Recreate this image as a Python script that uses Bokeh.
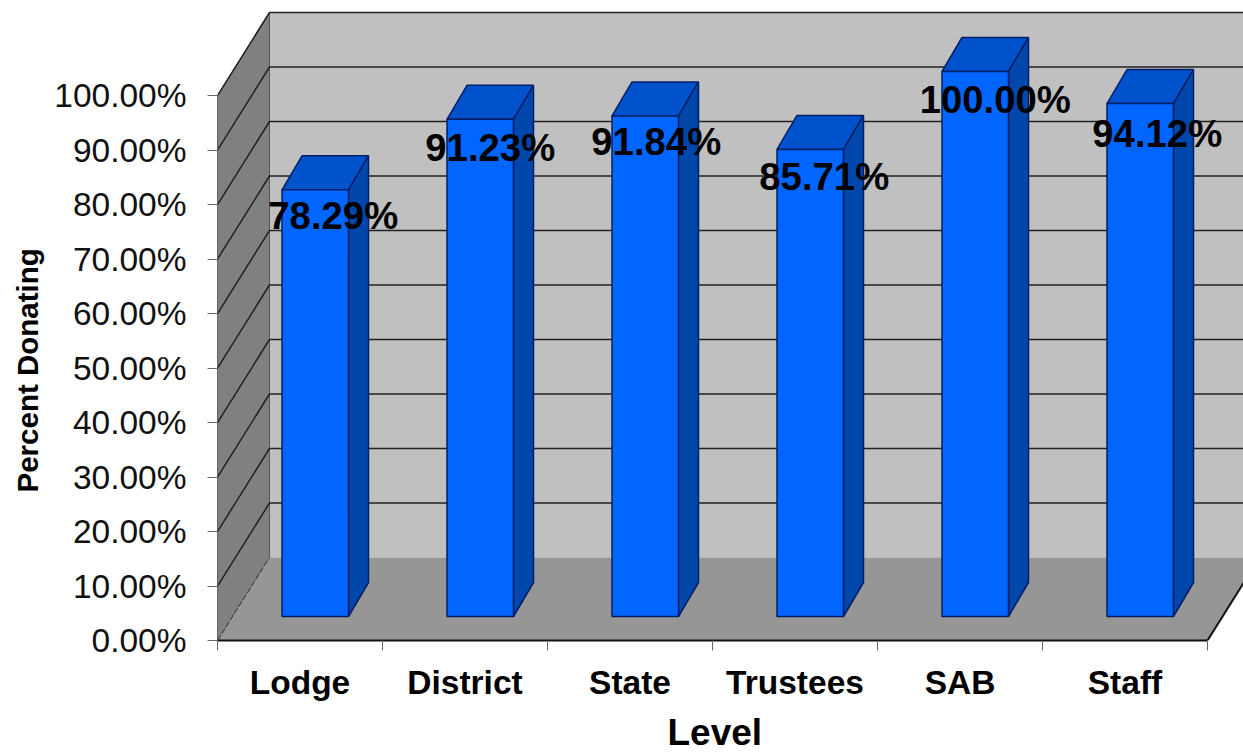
from bokeh.plotting import figure
from bokeh.models import ColumnDataSource, LinearAxis, FixedTicker, Range1d, Title
from bokeh.core.properties import value
from bokeh.embed import file_html
from bokeh.resources import INLINE

categories = ["Lodge", "District", "State", "Trustees", "SAB", "Staff"]
percent_donating = [78.29, 91.23, 91.84, 85.71, 100.00, 94.12]
percent_labels = ["78.29%", "91.23%", "91.84%", "85.71%", "100.00%", "94.12%"]
y_ticks = [0, 10, 20, 30, 40, 50, 60, 70, 80, 90, 100]
y_tick_labels = ["0.00%", "10.00%", "20.00%", "30.00%", "40.00%", "50.00%",
                 "60.00%", "70.00%", "80.00%", "90.00%", "100.00%"]
label_nudges_x = [18, 10, 11, 14, 20, 17]
label_nudges_y = [26, 28.5, 26, 27, 28, 30]

FONT = "Liberation Sans"
PX_X, PX_Y = 165.0, 5.45        # pixels per category / per percent
FRAME_L, FRAME_R, FRAME_T, FRAME_B = 217, 1243, 0, 640
WALL_DX, WALL_DY = 52 / PX_X, 83 / PX_Y
BAR_W = 66.5 / PX_X
BAR_SHIFT = (281.5 - 217) / PX_X
BAR_BASE = 24 / PX_Y
BAR_DX, BAR_DY = 20 / PX_X, 34 / PX_Y
n = len(categories)

p = figure(width=1243, height=752, output_backend="svg", toolbar_location=None,
           x_axis_type=None, y_axis_type=None,
           x_range=Range1d(0, (FRAME_R - FRAME_L) / PX_X),
           y_range=Range1d(0, (FRAME_B - FRAME_T) / PX_Y),
           frame_width=FRAME_R - FRAME_L, frame_height=FRAME_B - FRAME_T,
           min_border_left=FRAME_L, min_border_right=0,
           min_border_top=0, min_border_bottom=752 - FRAME_B,
           outline_line_color=None, background_fill_color=None)
p.grid.visible = False

top = 100
# back wall, left wall, floor
p.patch([WALL_DX, n + WALL_DX, n + WALL_DX, WALL_DX],
        [WALL_DY, WALL_DY, top + WALL_DY, top + WALL_DY],
        fill_color="#C0C0C0", line_color=None)
p.patch([0, WALL_DX, WALL_DX, 0], [0, WALL_DY, top + WALL_DY, top],
        fill_color="#808080", line_color="#555555", line_width=1)
p.patch([0, n, n + WALL_DX, WALL_DX], [0, 0, WALL_DY, WALL_DY],
        fill_color="#969696", line_color=None)

# grid lines on back and left walls
p.multi_line([[0, WALL_DX, n + WALL_DX] for v in y_ticks[1:]],
             [[v, v + WALL_DY, v + WALL_DY] for v in y_ticks[1:]],
             line_color="#222222", line_width=1.5)
p.line([0, WALL_DX], [0, WALL_DY], line_color="#333333", line_width=1, line_dash="6 2")
p.line([n, n + WALL_DX], [0, WALL_DY], line_color="#111111", line_width=2)

# bars
lefts = [i + BAR_SHIFT for i in range(n)]
rights = [l + BAR_W for l in lefts]
OUT = "#001F66"
p.patches([[l, r, r + BAR_DX, l + BAR_DX] for l, r in zip(lefts, rights)],
          [[BAR_BASE + v, BAR_BASE + v, BAR_BASE + v + BAR_DY, BAR_BASE + v + BAR_DY] for v in percent_donating],
          fill_color="#0052CC", line_color=OUT, line_width=1.5)
p.patches([[r, r + BAR_DX, r + BAR_DX, r] for r in rights],
          [[BAR_BASE, BAR_BASE + BAR_DY, BAR_BASE + v + BAR_DY, BAR_BASE + v] for v in percent_donating],
          fill_color="#0047AB", line_color=OUT, line_width=1.5)
p.quad(left=lefts, right=rights, bottom=BAR_BASE,
       top=[BAR_BASE + v for v in percent_donating],
       fill_color="#0066FF", line_color=OUT, line_width=1.5)

# value labels
src = ColumnDataSource(dict(
    x=[l + BAR_W / 2 for l in lefts],
    y=[BAR_BASE + v for v in percent_donating],
    t=percent_labels, dx=label_nudges_x, dy=label_nudges_y))
p.text("x", "y", text="t", source=src, x_offset="dx", y_offset="dy",
       text_font=value(FONT), text_font_style="bold", text_font_size="38.3px",
       text_color="#000000", text_align="center", text_baseline="middle")

# axes
yax = LinearAxis(ticker=FixedTicker(ticks=y_ticks), bounds=(0, 100),
                 major_label_overrides=dict(zip(y_ticks, y_tick_labels)))
yax.major_label_text_font = FONT
yax.major_label_text_font_size = "33.5px"
yax.major_label_text_color = "#111111"
yax.major_label_standoff = 21
yax.major_tick_out = 10
yax.major_tick_in = 0
yax.major_tick_line_color = "#666666"
yax.minor_tick_line_color = None
yax.axis_line_color = "#666666"
p.add_layout(yax, "left")

centers = [i + 0.5 for i in range(n)]
xax = LinearAxis(ticker=FixedTicker(ticks=centers, minor_ticks=list(range(n + 1))),
                 bounds=(0, n),
                 major_label_overrides=dict(zip(centers, categories)))
xax.major_label_text_font = FONT
xax.major_label_text_font_style = "bold"
xax.major_label_text_font_size = "33.5px"
xax.major_label_text_color = "#000000"
xax.major_label_standoff = 13
xax.major_tick_line_color = None
xax.major_tick_out = 0
xax.major_tick_in = 0
xax.minor_tick_out = 10
xax.minor_tick_in = 0
xax.minor_tick_line_color = "#666666"
xax.axis_line_color = "#111111"
xax.axis_line_width = 2
p.add_layout(xax, "below")

# axis titles sit at the middle of the bounded axes, not of the frame
p.add_layout(Title(text="Percent Donating", align="left", offset=148, standoff=15,
                   text_font=FONT, text_font_style="bold", text_font_size="29.5px",
                   text_color="#000000"), "left")
p.add_layout(Title(text="Level", align="left", offset=450, standoff=12,
                   text_font=FONT, text_font_style="bold", text_font_size="37px",
                   text_color="#000000"), "below")

open("out.html", "w").write(file_html(p, INLINE))
